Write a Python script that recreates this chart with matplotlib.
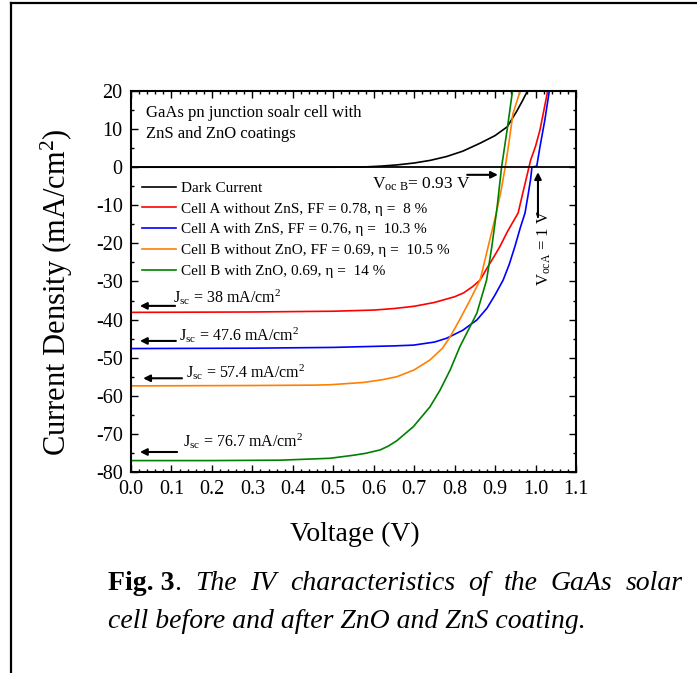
import matplotlib
matplotlib.use("agg")

import matplotlib.pyplot as plt
from matplotlib.lines import Line2D
import numpy as np


# ---- data (V in volts, J in mA/cm^2) ----
dark_v = [0.0, 0.5, 0.574, 0.62, 0.657, 0.70, 0.74, 0.78, 0.82, 0.863, 0.90, 0.93, 0.953, 0.967, 0.98]
dark_j = [0.0, 0.0, 0.05, 0.3, 0.6, 1.1, 1.8, 2.8, 4.2, 6.3, 8.3, 10.6, 14.6, 17.3, 20.0]

a_no_v = [0.0, 0.3, 0.5, 0.6, 0.65, 0.70, 0.75, 0.78, 0.80, 0.822, 0.845, 0.863, 0.88, 0.90, 0.912,
          0.93, 0.957, 0.968, 0.977, 0.983, 0.988, 1.0, 1.011, 1.030]
a_no_j = [-38.1, -38.0, -37.8, -37.5, -37.1, -36.5, -35.5, -34.6, -34.0, -33.0, -31.3, -29.6, -26.5, -23.0, -20.8,
          -17.0, -12.0, -7.0, -3.0, -0.3, 1.9, 5.5, 9.8, 20.0]

a_zns_v = [0.0, 0.3, 0.5, 0.574, 0.65, 0.698, 0.75, 0.78, 0.82, 0.855, 0.88, 0.90, 0.92, 0.935,
           0.949, 0.962, 0.974, 0.982, 0.988, 0.991, 1.003, 1.011, 1.023, 1.034]
a_zns_j = [-47.6, -47.5, -47.3, -47.1, -46.9, -46.7, -45.9, -44.9, -42.8, -40.1, -37.0, -33.5, -29.6, -25.5,
           -20.8, -16.0, -12.0, -7.0, -3.0, 0.0, 0.3, 5.4, 12.4, 20.0]

b_no_v = [0.0, 0.3, 0.45, 0.492, 0.574, 0.62, 0.657, 0.70, 0.739, 0.77, 0.789, 0.81, 0.835, 0.863,
          0.883, 0.903, 0.915, 0.925, 0.935, 0.944, 0.962]
b_no_j = [-57.4, -57.3, -57.2, -57.1, -56.5, -55.8, -55.0, -53.2, -50.6, -47.5, -44.5, -40.5, -35.5, -29.6,
          -20.8, -12.0, -6.0, 0.0, 7.0, 14.0, 20.0]

b_zno_v = [0.0, 0.2, 0.368, 0.492, 0.55, 0.58, 0.616, 0.636, 0.657, 0.698, 0.739, 0.764, 0.789, 0.813,
           0.834, 0.855, 0.879, 0.892, 0.905, 0.916, 0.93, 0.943]
b_zno_j = [-77.0, -77.0, -76.9, -76.4, -75.6, -75.1, -74.2, -73.2, -71.8, -68.1, -62.9, -58.5, -53.2, -47.1,
           -42.7, -38.3, -29.6, -20.8, -10.5, 0.0, 10.0, 20.0]

labels = ["Dark Current",
          "Cell A without ZnS, FF = 0.78, \u03b7 =  8 %",
          "Cell A with ZnS, FF = 0.76, \u03b7 =  10.3 %",
          "Cell B without ZnO, FF = 0.69, \u03b7 =  10.5 %",
          "Cell B with ZnO, 0.69, \u03b7 =  14 %"]
colors = ["black", "#ff0000", "#0000ff", "#ff8000", "#008000"]

jsc_texts = [r"J$_{\mathrm{sc}}$ = 38 mA/cm$^{2}$",
             r"J$_{\mathrm{sc}}$ = 47.6 mA/cm$^{2}$",
             r"J$_{\mathrm{sc}}$ = 57.4 mA/cm$^{2}$",
             r"J$_{\mathrm{sc}}$ = 76.7 mA/cm$^{2}$"]

xticks = np.round(np.arange(0, 1.1001, 0.1), 1)
yticks = np.arange(-80, 21, 10)

W, H = 697, 673


def px(x, y):
    # pixel position (from top-left) -> figure fraction
    return x / W, 1 - y / H


plt.rcParams["font.family"] = ["Liberation Serif", "DejaVu Serif"]
plt.rcParams["mathtext.fontset"] = "custom"
plt.rcParams["mathtext.rm"] = "Liberation Serif"
plt.rcParams["mathtext.it"] = "Liberation Serif:italic"
plt.rcParams["axes.unicode_minus"] = False

fig = plt.figure(figsize=(W / 100, H / 100), dpi=100)
l, t = px(131, 91)
r, b = px(576, 472)
ax = fig.add_axes([l, b, r - l, t - b])

curves = [(dark_v, dark_j), (a_no_v, a_no_j), (a_zns_v, a_zns_j), (b_no_v, b_no_j), (b_zno_v, b_zno_j)]
handles = []
for (v, j), c, lab in zip(curves, colors, labels):
    h, = ax.plot(v, j, color=c, lw=1.2, label=lab)
    handles.append(h)

ax.axhline(0, color="black", lw=1.3)

ax.set_xlim(0, 1.1)
ax.set_ylim(-80, 20)
ax.set_xticks(xticks)
ax.set_xticklabels([f"{x:.1f}" for x in xticks])
ax.set_xticks(np.arange(0, 1.1001, 0.02), minor=True)
ax.set_yticks(yticks)
ax.set_yticks(np.arange(-80, 21, 5), minor=True)
ax.tick_params(which="both", direction="in", top=True, right=True, width=1.0, labelsize=14.5, pad=6)
ax.tick_params(which="major", length=5)
ax.tick_params(which="minor", length=2.5)
for sp in ax.spines.values():
    sp.set_linewidth(1.5)

ax.set_xlabel("Voltage (V)", fontsize=20)
ax.set_ylabel("Current Density (mA/cm$^{2}$)", fontsize=22)
ax.xaxis.label.set_va("center")
ax.yaxis.label.set_va("center")
ax.xaxis.set_label_coords(0.503, -0.165)
ax.yaxis.set_label_coords(-0.166, 0.472)

ax.legend(handles=handles, loc="upper left", bbox_to_anchor=(0.025, 0.763), frameon=False,
          fontsize=11, handlelength=2.2, handletextpad=0.35, labelspacing=0.46,
          borderpad=0, borderaxespad=0)

ax.text(0.034, 0.962, "GaAs pn junction soalr cell with\nZnS and ZnO coatings", transform=ax.transAxes,
        fontsize=12, va="top", ha="left", linespacing=1.4)

arrow = dict(arrowstyle="-|>", color="black", lw=1.5, mutation_scale=10, shrinkA=0, shrinkB=0)

# Voc annotations
ax.annotate("", xy=(0.907, -2.0), xytext=(0.831, -2.0), arrowprops=arrow)
ax.text(0.596, -5.5, r"V$_{\mathrm{oc\ B}}$= 0.93 V", fontsize=12.5, va="baseline", ha="left")
ax.annotate("", xy=(1.006, -1.3), xytext=(1.006, -13.1), arrowprops=arrow)
ax.text(1.021, -21.3, r"V$_{\mathrm{ocA}}$ = 1 V", fontsize=12, rotation=90, va="center", ha="center")

# Jsc annotations
jsc_arrows = [(0.022, 0.109, -36.4), (0.022, 0.111, -45.6), (0.030, 0.126, -55.4), (0.022, 0.114, -74.75)]
jsc_pos = [(0.104, -35.6), (0.119, -45.4), (0.136, -55.1), (0.129, -73.4)]
for (hx, tx, y), (x0, y0), s in zip(jsc_arrows, jsc_pos, jsc_texts):
    ax.annotate("", xy=(hx, y), xytext=(tx, y), arrowprops=arrow)
    ax.text(x0, y0, s, fontsize=11.5, va="baseline", ha="left")

# page border lines
fig.add_artist(Line2D([px(11, 0)[0], px(11, 0)[0]], [0, px(0, 3)[1]], color="black", lw=1.6))
fig.add_artist(Line2D([px(11, 0)[0], 1], [px(0, 3)[1], px(0, 3)[1]], color="black", lw=1.6))

# caption, justified first line
fig.canvas.draw()
renderer = fig.canvas.get_renderer()
cap_size = 20
line1 = [("Fig. 3", "bold", "normal"), (".", "normal", "normal"), ("The", "normal", "italic"),
         ("IV", "normal", "italic"), ("characteristics", "normal", "italic"), ("of", "normal", "italic"),
         ("the", "normal", "italic"), ("GaAs", "normal", "italic"), ("solar", "normal", "italic")]
x_start, x_end = 108, 683
y1, y2 = 590, 628
parts = []
for s, w, st in line1:
    tx = fig.text(0, 0, s, fontsize=cap_size, fontweight=w, fontstyle=st, va="baseline", ha="left")
    parts.append(tx)
widths = [p.get_window_extent(renderer).width for p in parts]
# "Fig. 3" and "." are glued; remaining words share the spare space
n_gaps = len(parts) - 2
gap = (x_end - x_start - sum(widths)) / n_gaps
x = x_start
for i, (p, wd) in enumerate(zip(parts, widths)):
    p.set_position(px(x, y1))
    x += wd
    if i >= 1:
        x += gap

fig.text(*px(x_start, y2), "cell before and after ZnO and ZnS coating.", fontsize=cap_size,
         fontstyle="italic", va="baseline", ha="left")

fig.savefig("out.png", dpi=100)
